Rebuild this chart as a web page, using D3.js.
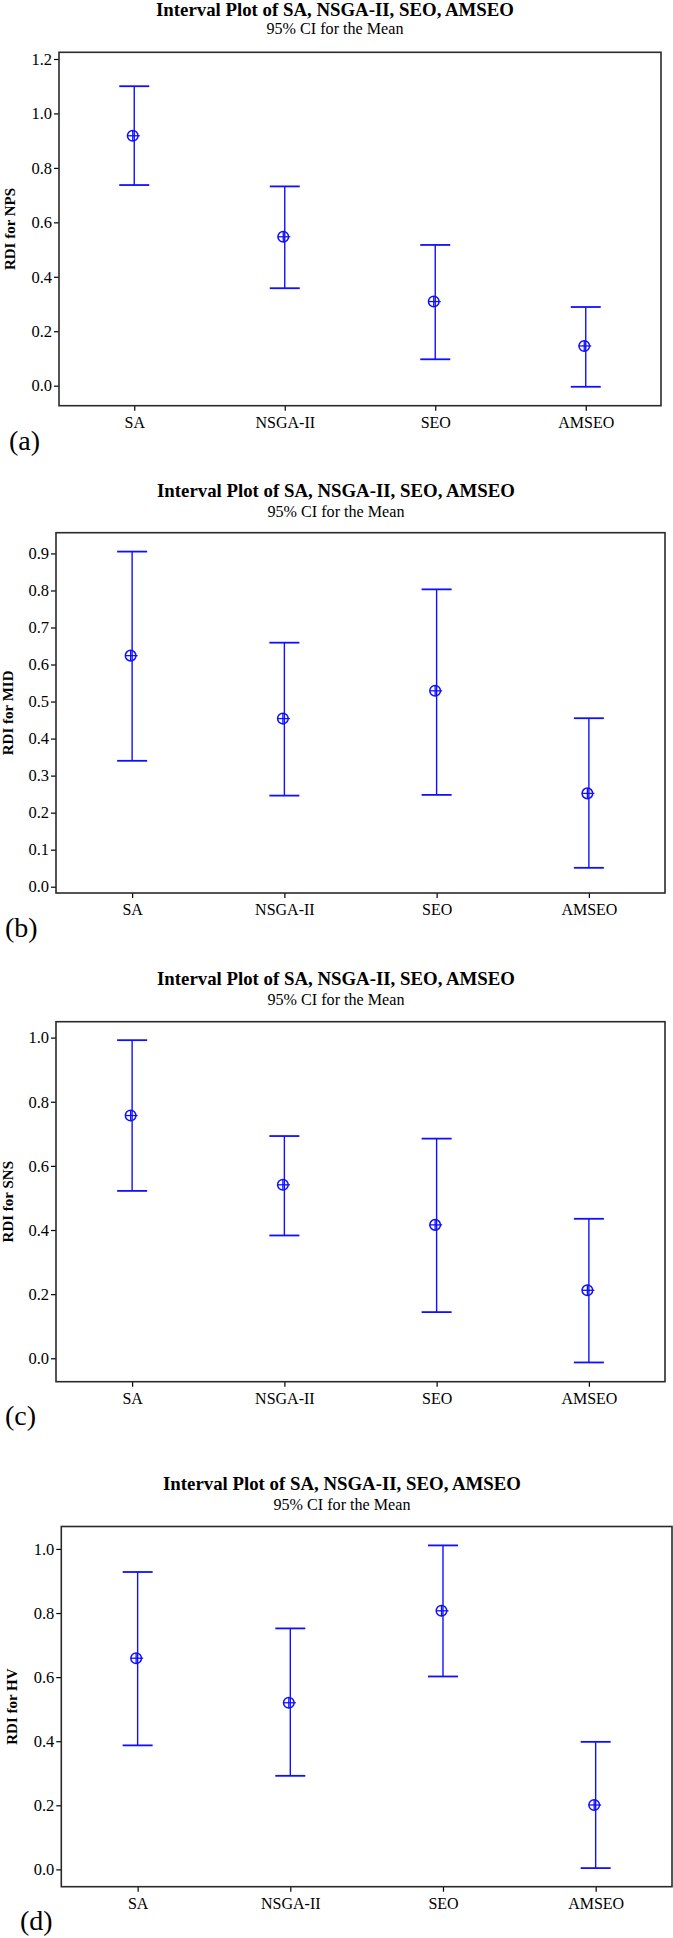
<!DOCTYPE html>
<html>
<head>
<meta charset="utf-8">
<script src="https://cdn.jsdelivr.net/npm/d3@7/dist/d3.min.js"></script>
<style>
  html, body { margin: 0; padding: 0; background: #fff; }
  svg { display: block; }
  text { font-family: "Liberation Serif", "Times New Roman", serif; fill: #000; }
</style>
</head>
<body>
<div id="chart"></div>
<script>
const categories = ['SA', 'NSGA-II', 'SEO', 'AMSEO'];
const metrics = ['NPS', 'MID', 'SNS', 'HV'];
const panelTags = ['(a)', '(b)', '(c)', '(d)'];
const titleText = 'Interval Plot of SA, NSGA-II, SEO, AMSEO';
const subtitleText = '95% CI for the Mean';

// mean and 95% CI bounds, one row per panel, one value per category
const means = [
  [0.918, 0.547, 0.309, 0.146],
  [0.624, 0.454, 0.529, 0.252],
  [0.757, 0.541, 0.416, 0.212],
  [0.659, 0.520, 0.807, 0.201],
];
const lowers = [
  [0.737, 0.358, 0.097, -0.004],
  [0.340, 0.246, 0.248, 0.051],
  [0.522, 0.383, 0.144, -0.013],
  [0.387, 0.292, 0.602, 0.004],
];
const uppers = [
  [1.100, 0.732, 0.517, 0.289],
  [0.905, 0.659, 0.803, 0.455],
  [0.992, 0.693, 0.685, 0.435],
  [0.928, 0.752, 1.011, 0.398],
];
const yTicks = [
  [0, 0.2, 0.4, 0.6, 0.8, 1.0, 1.2],
  [0, 0.1, 0.2, 0.3, 0.4, 0.5, 0.6, 0.7, 0.8, 0.9],
  [0, 0.2, 0.4, 0.6, 0.8, 1.0],
  [0, 0.2, 0.4, 0.6, 0.8, 1.0],
];
const yDomains = [
  [-0.0735, 1.2246],
  [-0.017, 0.956],
  [-0.073, 1.0496],
  [-0.054, 1.070],
];

// page geometry of each panel
const layout = [
  { l: 59, r: 661, t: 52.3, b: 405.7, cx: 335, titleY: 15.5, subY: 34, tagX: 9, tagY: 450, yLabX: 15 },
  { l: 56, r: 665, t: 532.7, b: 893, cx: 336, titleY: 497, subY: 517, tagX: 5, tagY: 937, yLabX: 13 },
  { l: 56, r: 665, t: 1021.7, b: 1381.7, cx: 336, titleY: 985, subY: 1005, tagX: 5, tagY: 1425, yLabX: 13 },
  { l: 61.3, r: 672, t: 1526.5, b: 1886.7, cx: 342, titleY: 1490, subY: 1510, tagX: 20, tagY: 1930, yLabX: 17 },
];

const serif = '"Liberation Serif", "Times New Roman", serif';
const blue = '#1010ff';
const width = 673, height = 1938;
const svg = d3.select('#chart').append('svg').attr('width', width).attr('height', height);
svg.append('rect').attr('width', width).attr('height', height).attr('fill', '#fff');

metrics.forEach((metric, i) => {
  const L = layout[i];
  const g = svg.append('g');
  const x = d3.scalePoint(categories, [L.l, L.r]).padding(0.5);
  const y = d3.scaleLinear(yDomains[i], [L.b, L.t]);

  g.append('text').attr('x', L.cx).attr('y', L.titleY).attr('text-anchor', 'middle')
    .attr('font-weight', 'bold').attr('font-size', 19)
    .attr('textLength', 358).attr('lengthAdjust', 'spacingAndGlyphs').text(titleText);
  g.append('text').attr('x', L.cx).attr('y', L.subY).attr('text-anchor', 'middle')
    .attr('font-size', 16.5).attr('textLength', 137).attr('lengthAdjust', 'spacingAndGlyphs').text(subtitleText);

  const ya = g.append('g').attr('transform', `translate(${L.l},0)`)
    .call(d3.axisLeft(y).tickValues(yTicks[i]).tickSize(5).tickPadding(2).tickFormat(d3.format('.1f')));
  ya.select('.domain').remove();
  ya.attr('font-family', serif);
  ya.selectAll('text').style('font-family', serif).attr('font-size', 16.5).attr('fill', '#000');
  ya.selectAll('line').attr('stroke', '#000').attr('stroke-width', 1.2);

  const xa = g.append('g').attr('transform', `translate(0,${L.b})`)
    .call(d3.axisBottom(x).tickSize(5).tickPadding(6));
  xa.select('.domain').remove();
  xa.attr('font-family', serif);
  xa.selectAll('text').style('font-family', serif).attr('font-size', 16).attr('fill', '#000');
  xa.selectAll('line').attr('stroke', '#000').attr('stroke-width', 1.2);

  g.append('rect').attr('x', L.l).attr('y', L.t).attr('width', L.r - L.l).attr('height', L.b - L.t)
    .attr('fill', 'none').attr('stroke', '#2a2a2a').attr('stroke-width', 1.6);

  const cy = (L.t + L.b) / 2;
  g.append('text').attr('transform', `translate(${L.yLabX},${cy}) rotate(-90)`)
    .attr('text-anchor', 'middle').attr('font-weight', 'bold').attr('font-size', 15)
    .text(`RDI for ${metric}`);

  g.append('text').attr('x', L.tagX).attr('y', L.tagY).attr('font-size', 28).text(panelTags[i]);

  const rows = categories.map((c, j) => ({ c, m: means[i][j], lo: lowers[i][j], hi: uppers[i][j] }));
  const bars = g.append('g').attr('stroke', blue).attr('stroke-width', 1.4).attr('fill', 'none');
  const cap = 15;
  const item = bars.selectAll('g').data(rows).join('g');
  item.append('line').attr('x1', (d) => x(d.c)).attr('x2', (d) => x(d.c)).attr('y1', (d) => y(d.lo)).attr('y2', (d) => y(d.hi));
  item.append('line').attr('x1', (d) => x(d.c) - cap).attr('x2', (d) => x(d.c) + cap).attr('y1', (d) => y(d.hi)).attr('y2', (d) => y(d.hi)).attr('stroke-width', 1.8);
  item.append('line').attr('x1', (d) => x(d.c) - cap).attr('x2', (d) => x(d.c) + cap).attr('y1', (d) => y(d.lo)).attr('y2', (d) => y(d.lo)).attr('stroke-width', 1.8);
  item.append('circle').attr('cx', (d) => x(d.c) - 1.5).attr('cy', (d) => y(d.m)).attr('r', 5.3).attr('stroke-width', 1.5);
  item.append('line').attr('x1', (d) => x(d.c) - 7).attr('x2', (d) => x(d.c) + 5.5).attr('y1', (d) => y(d.m)).attr('y2', (d) => y(d.m)).attr('stroke-width', 1.3);
  item.append('line').attr('x1', (d) => x(d.c) - 1.5).attr('x2', (d) => x(d.c) - 1.5).attr('y1', (d) => y(d.m) - 5.3).attr('y2', (d) => y(d.m) + 5.3).attr('stroke-width', 1.3);
});
</script>
</body>
</html>
